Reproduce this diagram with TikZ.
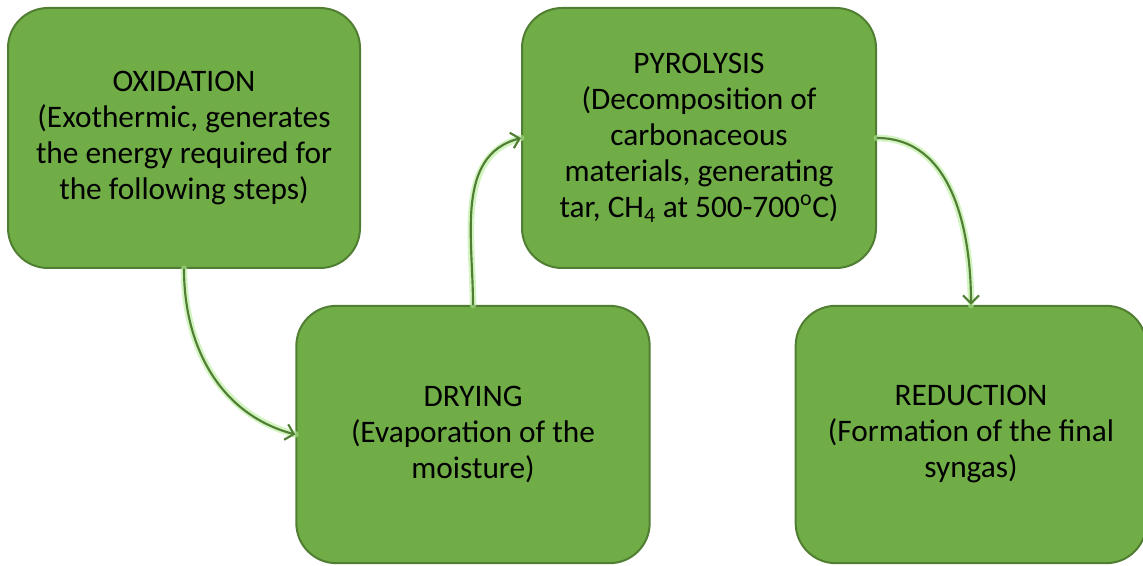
\documentclass[tikz,border=0pt]{standalone}
\usepackage{fontspec}
\setmainfont{Carlito}
\usepackage{tikz}
\usetikzlibrary{arrows.meta, positioning}
\definecolor{boxfill}{HTML}{70AD47}
\definecolor{boxline}{HTML}{507E32}
\definecolor{glow}{HTML}{B4EC96}
\tikzset{
every node/.style={font=\fontsize{23.5}{27}\selectfont}, % text size of the boxes
stagebox/.style={draw=boxline, line width=1.5pt, fill=boxfill, rounded corners=30pt, align=center, inner sep=0pt}, % every stage of the process
topbox/.style={stagebox, minimum width=264pt, minimum height=195pt},
lowbox/.style={stagebox, minimum width=265pt, minimum height=193pt},
flow/.style={draw=boxline, line width=1.6pt, -{Straight Barb[length=6pt, width=12pt, line width=1.6pt]}}, % the arrows
halo/.style={draw=glow, line width=5pt, opacity=0.6, line cap=round},
}
\begin{document}
\begin{tikzpicture}[x=0.75pt, y=0.75pt]
    \useasboundingbox (0,0) rectangle (1143,565);
    \node[topbox] (ox) at (184,427) {OXIDATION\\(Exothermic, generates\\the energy required for\\the following steps)};
    \node[topbox, minimum width=265.5pt] (py) at (699,427) {PYROLYSIS\\(Decomposition of\\carbonaceous\\materials, generating\\tar, CH\textsubscript{4} at 500-700\textsuperscript{o}C)};
    \node[lowbox] (dr) at (473,130.5) {DRYING\\(Evaporation of the\\moisture)};
    \node[lowbox, minimum width=263pt] (re) at (971,130.5) {REDUCTION\\(Formation of the final\\syngas)};
    % glow under the arrows
    \path[halo]
        (ox.south) to[out=-90, in=165] (dr.west)
        (dr.north) to[out=90, in=195] (py.west)
        (py.east) to[out=0, in=90] (re.north);
    \path
        (ox.south) edge[flow, out=-90, in=165] (dr.west)
        (dr.north) edge[flow, out=90, in=195] (py.west)
        (py.east) edge[flow, out=0, in=90] (re.north);
\end{tikzpicture}
\end{document}
